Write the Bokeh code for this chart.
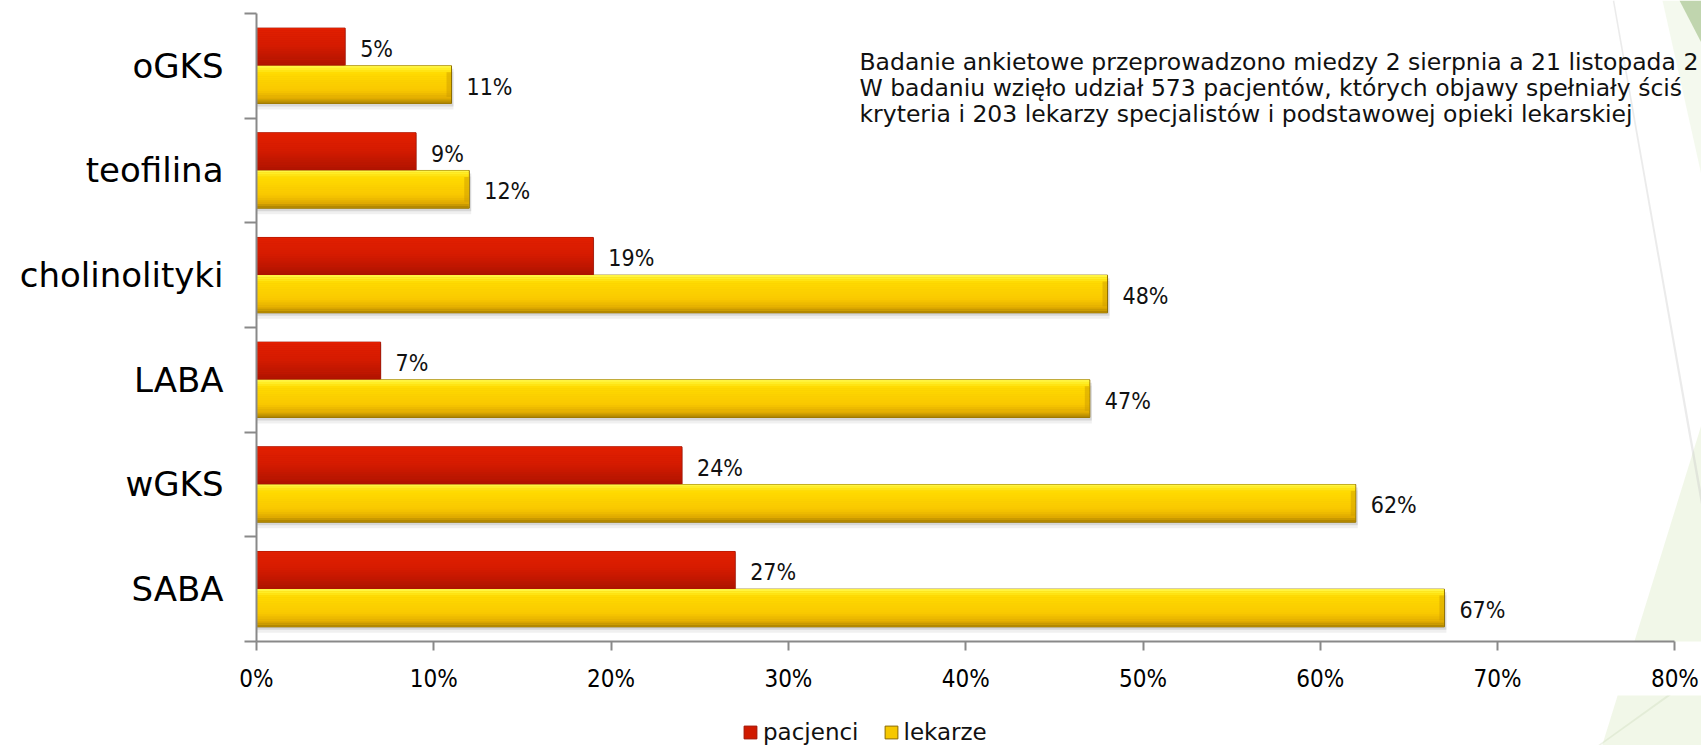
from bokeh.plotting import figure
from bokeh.layouts import column
from bokeh.models import (Range1d, FixedTicker, LinearAxis, ColumnDataSource,
                          Legend, LegendItem, Label, PolyAnnotation)
from bokeh.core.properties import value
from bokeh.embed import file_html
from bokeh.resources import INLINE

# ---------------- data ----------------
categories = ["SABA", "wGKS", "LABA", "cholinolityki", "teofilina", "oGKS"]
pacjenci = [27, 24, 7, 19, 9, 5]
lekarze = [67, 62, 47, 48, 12, 11]
series_names = ["pacjenci", "lekarze"]
x_ticks = [0, 10, 20, 30, 40, 50, 60, 70, 80]
x_tick_labels = ["0%", "10%", "20%", "30%", "40%", "50%", "60%", "70%", "80%"]
note_lines = [
    "Badanie ankietowe przeprowadzono miedzy 2 sierpnia a 21 listopada 2",
    "W badaniu wzięło udział 573 pacjentów, których objawy spełniały ściś",
    "kryteria i 203 lekarzy specjalistów i podstawowej opieki lekarskiej",
]

# ---------------- layout ----------------
W, H_TOTAL = 1701, 745
LEG_H = 50
H = H_TOTAL - LEG_H
LEFT, BOTTOM = 256, 52
FRAME_W = W - LEFT
FRAME_H = H - BOTTOM
PX_PER_PCT = 17.73
PX_PER_CAT = 105.0
BAR_H = 0.36
AXIS_GRAY = "#898989"
NUM_FONT = "Liberation Sans Narrow, DejaVu Sans Condensed, DejaVu Sans"
TXT_FONT = "DejaVu Sans"

RED_BASE, RED_EDGE = "#D01A00", "#A01100"
YEL_BASE, YEL_EDGE = "#F6C800", "#8A6A00"

n = len(categories)
y_start = -0.5
y_end = y_start + FRAME_H / PX_PER_CAT
x_end = FRAME_W / PX_PER_PCT

p = figure(width=W, height=H, x_range=Range1d(0, x_end), y_range=Range1d(y_start, y_end),
           output_backend="svg", toolbar_location=None,
           x_axis_type=None, y_axis_type=None,
           min_border_left=LEFT, min_border_bottom=BOTTOM,
           min_border_top=0, min_border_right=0)
p.outline_line_color = None
p.background_fill_color = "white"
p.border_fill_color = "white"
p.xgrid.visible = False
p.ygrid.visible = False

# pixel helper ranges (page pixel coordinates inside the plot frame)
p.extra_x_ranges = {"px": Range1d(LEFT, W)}
p.extra_y_ranges = {"py": Range1d(FRAME_H, 0)}

# ---------------- background decoration (slide theme) ----------------
TRI = [(1597, 760), (1710, 760), (1710, 395)]
deco = [
    ([(1662, 0), (1710, 0), (1710, 215)], "#E4EFD5"),
    ([(1679, 0), (1710, 0), (1710, 60)], "#73A04E"),
    (TRI, "#DDEBC6"),
]
for pts, col in deco:
    p.add_layout(PolyAnnotation(xs=[q[0] for q in pts], ys=[q[1] for q in pts],
                                xs_units="canvas", ys_units="canvas",
                                fill_color=col, line_color=None, level="underlay"))
for pts, col in [([(1613, 0), (1704, 514), (1703, 514)], "#BEBEBE"),
                 ([(1597, 746), (1705, 668), (1705, 669)], "#C3D5AE")]:
    p.add_layout(PolyAnnotation(xs=[q[0] for q in pts], ys=[q[1] for q in pts],
                                xs_units="canvas", ys_units="canvas",
                                fill_color=None, line_color=col, line_width=1.5,
                                level="underlay"))

# ---------------- bars ----------------
def hex2rgb(h):
    h = h.lstrip("#")
    return tuple(int(h[i:i + 2], 16) for i in (0, 2, 4))

def interp(stops, t):
    for (t0, c0), (t1, c1) in zip(stops[:-1], stops[1:]):
        if t0 <= t <= t1:
            f = 0 if t1 == t0 else (t - t0) / (t1 - t0)
            a, b = hex2rgb(c0), hex2rgb(c1)
            return "#%02x%02x%02x" % tuple(round(a[i] + (b[i] - a[i]) * f) for i in range(3))
    return stops[-1][1]

red_stops = [(0, "#E21F00"), (0.45, "#D61B00"), (1.0, "#AC1300")]
yel_stops = [(0, "#FFF850"), (0.09, "#FFEC22"), (0.2, "#FFDA00"), (0.65, "#F9C800"),
             (0.86, "#E0AA00"), (1.0, "#A88000")]

px_y = 1.0 / PX_PER_CAT
px_x = 1.0 / PX_PER_PCT
red_y = [i + 0.18 for i in range(n)]
yel_y = [i - 0.18 for i in range(n)]

# soft shadows
for off, alpha in [(3, 0.10), (6, 0.06)]:
    p.hbar(y=[v - off * px_y for v in yel_y], left=0, right=[v + 2 * px_x for v in lekarze],
           height=BAR_H, fill_color="black", fill_alpha=alpha, line_color=None)
p.hbar(y=[v - 2 * px_y for v in red_y], left=0, right=[v + 1 * px_x for v in pacjenci],
       height=BAR_H, fill_color="black", fill_alpha=0.08, line_color=None)

p.hbar(y=red_y, left=0, right=pacjenci, height=BAR_H,
       fill_color=RED_BASE, line_color=RED_EDGE, line_width=1)
p.hbar(y=yel_y, left=0, right=lekarze, height=BAR_H,
       fill_color=YEL_BASE, line_color=YEL_EDGE, line_width=1)

def bands(ys, vals, stops, nb):
    d = dict(y=[], right=[], color=[])
    for k in range(nb):
        t = (k + 0.5) / nb
        col = interp(stops, t)
        for yc, v in zip(ys, vals):
            d["y"].append(yc + BAR_H / 2 - t * BAR_H)
            d["right"].append(v - 0.5 * px_x)
            d["color"].append(col)
    return ColumnDataSource(d), BAR_H / nb

src, bh = bands(red_y, pacjenci, red_stops, 18)
p.hbar(y="y", left=0.5 * px_x, right="right", height=bh * 1.05, fill_color="color",
       line_color=None, source=src)
src, bh = bands(yel_y, lekarze, yel_stops, 18)
p.hbar(y="y", left=0.5 * px_x, right="right", height=bh * 1.05, fill_color="color",
       line_color=None, source=src)

# bevel at the right end of yellow bars
p.hbar(y=yel_y, left=[v - 5 * px_x for v in lekarze], right=[v - 0.5 * px_x for v in lekarze],
       height=BAR_H * 0.66, fill_color="#C99800", fill_alpha=0.45, line_color=None)

# data labels
for ys, vals in [(red_y, pacjenci), (yel_y, lekarze)]:
    s = ColumnDataSource(dict(x=vals, y=[yv - 2 * px_y for yv in ys],
                              t=["%d%%" % v for v in vals]))
    p.text(x="x", y="y", text="t", source=s, x_offset=15, text_baseline="middle",
           text_align="left", text_font=value(NUM_FONT), text_font_size="23px",
           text_color="#111111")

# ---------------- axes ----------------
yaxis = LinearAxis(ticker=FixedTicker(ticks=list(range(n)),
                                      minor_ticks=[i - 0.5 for i in range(n + 1)]),
                   major_label_overrides={i: c for i, c in enumerate(categories)},
                   bounds=(-0.5, n - 0.5))
yaxis.axis_line_color = AXIS_GRAY
yaxis.axis_line_width = 2
yaxis.major_tick_line_color = None
yaxis.major_tick_out = 0
yaxis.major_tick_in = 0
yaxis.minor_tick_line_color = AXIS_GRAY
yaxis.minor_tick_line_width = 2
yaxis.minor_tick_out = 12
yaxis.minor_tick_in = 0
yaxis.major_label_text_font = TXT_FONT
yaxis.major_label_text_font_size = "34px"
yaxis.major_label_text_color = "#000000"
yaxis.major_label_standoff = 21
p.add_layout(yaxis, "left")

xaxis = LinearAxis(ticker=FixedTicker(ticks=x_ticks, minor_ticks=[]),
                   major_label_overrides={t: l for t, l in zip(x_ticks, x_tick_labels)},
                   bounds=(x_ticks[0], x_ticks[-1]))
xaxis.axis_line_color = AXIS_GRAY
xaxis.axis_line_width = 2
xaxis.major_tick_line_color = AXIS_GRAY
xaxis.major_tick_line_width = 2
xaxis.major_tick_out = 9
xaxis.major_tick_in = 0
xaxis.minor_tick_line_color = None
xaxis.major_label_text_font = NUM_FONT
xaxis.major_label_text_font_size = "24px"
xaxis.major_label_text_color = "#000000"
xaxis.major_label_standoff = 14
p.add_layout(xaxis, "below")

# ---------------- note text ----------------
for i, line in enumerate(note_lines):
    p.add_layout(Label(x=859, y=62 + 26 * i, x_range_name="px", y_range_name="py",
                       text=line, text_font=TXT_FONT, text_font_size="23.5px",
                       text_color="#111111", text_baseline="alphabetic", text_align="left"))

# ---------------- legend strip ----------------
leg = figure(width=W, height=LEG_H, x_range=Range1d(0, 10), y_range=Range1d(0, 10),
             output_backend="svg", toolbar_location=None,
             x_axis_type=None, y_axis_type=None, min_border=0)
leg.outline_line_color = None
leg.xgrid.visible = False
leg.ygrid.visible = False
leg.background_fill_color = "white"
leg.border_fill_color = "white"
leg.add_layout(PolyAnnotation(xs=[q[0] for q in TRI], ys=[q[1] - H for q in TRI],
                              xs_units="canvas", ys_units="canvas",
                              fill_color="#DDEBC6", line_color=None, level="underlay"))
leg.add_layout(PolyAnnotation(xs=[1597, 1705, 1705], ys=[746 - H, 668 - H, 669 - H],
                              xs_units="canvas", ys_units="canvas",
                              fill_color=None, line_color="#C3D5AE", line_width=1.5,
                              level="underlay"))
# legend swatches (kept outside the visible range)
lr = leg.hbar(y=[-50], left=[0], right=[1], height=1, fill_color=RED_BASE, line_color=RED_EDGE)
ly = leg.hbar(y=[-50], left=[0], right=[1], height=1, fill_color=YEL_BASE, line_color=YEL_EDGE)
legend = Legend(items=[LegendItem(label=series_names[0], renderers=[lr]),
                       LegendItem(label=series_names[1], renderers=[ly])],
                orientation="horizontal", location=(742 - LEFT, 0),
                glyph_width=16, glyph_height=16, label_standoff=5, spacing=24,
                padding=0, margin=0, border_line_color=None, background_fill_alpha=0,
                label_text_font=TXT_FONT, label_text_font_size="23px",
                label_text_color="#111111", label_height=20)
leg.add_layout(legend, "center")

open("out.html", "w").write(file_html(column(p, leg, spacing=0), INLINE))
